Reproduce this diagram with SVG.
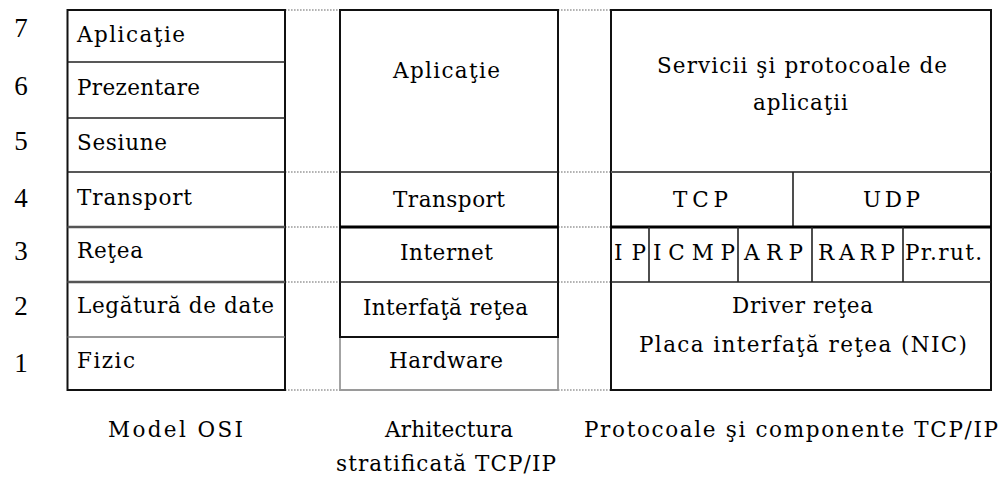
<svg xmlns="http://www.w3.org/2000/svg" width="1005" height="478" viewBox="0 0 1005 478">
  <style>
    text { font-family: "DejaVu Serif", "Liberation Serif", serif; font-size: 21.5px; fill: #000; }
    .num { font-family: "Liberation Serif", serif; font-size: 27px; text-anchor: middle; }
    .box { fill: #fff; stroke: #111; stroke-width: 2; }
    .thin { stroke: #222; stroke-width: 1.6; fill: none; }
    .grey { stroke: #555; stroke-width: 2.6; fill: none; }
    .light { stroke: #777; stroke-width: 1.6; fill: none; }
    .thick { stroke: #000; stroke-width: 3.2; fill: none; }
    .hw { stroke: #9a9a9a; stroke-width: 1.8; fill: none; }
    .dot { stroke: #9a9a9a; stroke-width: 1.6; stroke-dasharray: 1.6 1.4; fill: none; }
  </style>

  <rect width="1005" height="478" fill="#fff"/>

  <!-- layer numbers -->
  <g id="layer-numbers">
    <text class="num" x="21" y="37">7</text>
    <text class="num" x="21" y="95">6</text>
    <text class="num" x="21" y="150">5</text>
    <text class="num" x="21" y="207">4</text>
    <text class="num" x="21" y="260">3</text>
    <text class="num" x="21" y="315">2</text>
    <text class="num" x="21" y="372">1</text>
  </g>

  <!-- dotted links between the stacks -->
  <g id="connectors">
    <path class="dot" d="M285 10H340M285 172H340M285 227H340M285 282H340M285 390H340"/>
    <path class="dot" d="M558 10H611M558 172H611M558 227H611M558 282H611M558 390H611"/>
  </g>

  <!-- OSI model -->
  <g id="osi-model">
    <rect class="box" x="67.5" y="10" width="217.5" height="380"/>
    <path class="thin" d="M67.5 62H285M67.5 118H285M67.5 172H285"/>
    <path class="grey" d="M67.5 227H285M67.5 282H285"/>
    <path class="light" d="M67.5 337H285"/>
    <g id="osi-aplicatie"><text x="77" y="42" textLength="108" lengthAdjust="spacing">Aplicaţie</text></g>
    <g id="osi-prezentare"><text x="77" y="95" textLength="123" lengthAdjust="spacing">Prezentare</text></g>
    <g id="osi-sesiune"><text x="77" y="150" textLength="90" lengthAdjust="spacing">Sesiune</text></g>
    <g id="osi-transport"><text x="77" y="205" textLength="115" lengthAdjust="spacing">Transport</text></g>
    <g id="osi-retea"><text x="77" y="258" textLength="66" lengthAdjust="spacing">Reţea</text></g>
    <g id="osi-legatura"><text x="77" y="313" textLength="197" lengthAdjust="spacing">Legătură de date</text></g>
    <g id="osi-fizic"><text x="77" y="368" textLength="58" lengthAdjust="spacing">Fizic</text></g>
  </g>

  <!-- TCP/IP layered architecture -->
  <g id="tcpip-architecture">
    <path class="hw" d="M340 337V390H558V337"/>
    <rect class="box" x="340" y="10" width="218" height="327"/>
    <path class="thin" d="M340 172H558M340 282H558"/>
    <path class="thick" d="M340 227H558"/>
    <g id="arch-aplicatie"><text x="393" y="78" textLength="107" lengthAdjust="spacing">Aplicaţie</text></g>
    <g id="arch-transport"><text x="393" y="207" textLength="112" lengthAdjust="spacing">Transport</text></g>
    <g id="arch-internet"><text x="400" y="260" textLength="93" lengthAdjust="spacing">Internet</text></g>
    <g id="arch-interfata"><text x="363" y="315" textLength="165" lengthAdjust="spacing">Interfaţă reţea</text></g>
    <g id="arch-hardware"><text x="389" y="368" textLength="114" lengthAdjust="spacing">Hardware</text></g>
  </g>

  <!-- TCP/IP protocols and components -->
  <g id="tcpip-protocols">
    <rect class="box" x="611" y="10" width="380" height="380"/>
    <path class="grey" d="M611 172H991" style="stroke-width:2"/>
    <path class="thin" d="M793 172V227"/>
    <path class="thick" d="M611 227H991"/>
    <path class="thin" d="M649 227V282M738 227V282M812 227V282M903 227V282M611 282H991"/>
    <g id="proto-servicii">
      <text x="657" y="73" textLength="290" lengthAdjust="spacing">Servicii şi protocoale de</text>
      <text x="753" y="110" textLength="95" lengthAdjust="spacing">aplicaţii</text>
    </g>
    <g id="proto-tcp"><text x="673" y="207" textLength="55" lengthAdjust="spacing">TCP</text></g>
    <g id="proto-udp"><text x="863" y="207" textLength="57" lengthAdjust="spacing">UDP</text></g>
    <g id="proto-ip"><text x="614" y="260" textLength="32" lengthAdjust="spacing">IP</text></g>
    <g id="proto-icmp"><text x="653" y="260" textLength="82" lengthAdjust="spacing">ICMP</text></g>
    <g id="proto-arp"><text x="744" y="260" textLength="59" lengthAdjust="spacing">ARP</text></g>
    <g id="proto-rarp"><text x="818" y="260" textLength="77" lengthAdjust="spacing">RARP</text></g>
    <g id="proto-prrut"><text x="905" y="260" textLength="77" lengthAdjust="spacing">Pr.rut.</text></g>
    <g id="proto-driver">
      <text x="732" y="313" textLength="141" lengthAdjust="spacing">Driver reţea</text>
      <text x="639" y="352" textLength="328" lengthAdjust="spacing">Placa interfaţă reţea (NIC)</text>
    </g>
  </g>

  <!-- captions -->
  <g id="captions">
    <text x="108" y="437" textLength="135" lengthAdjust="spacing">Model OSI</text>
    <text x="385" y="437" textLength="128" lengthAdjust="spacing">Arhitectura</text>
    <text x="336" y="471" textLength="220" lengthAdjust="spacing">stratificată TCP/IP</text>
    <text x="584" y="437" textLength="414" lengthAdjust="spacing">Protocoale şi componente TCP/IP</text>
  </g>
</svg>
